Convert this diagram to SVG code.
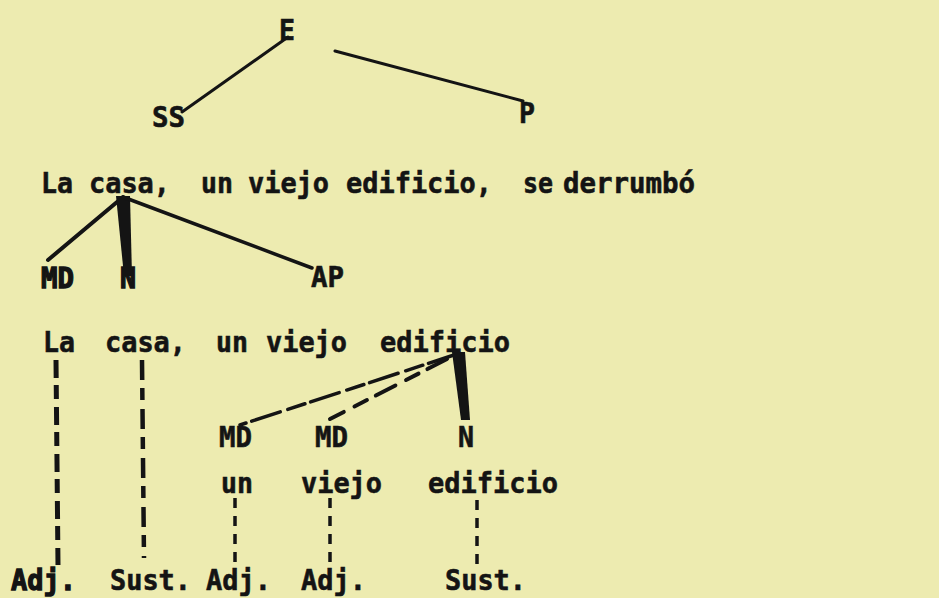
<svg xmlns="http://www.w3.org/2000/svg" width="939" height="598" viewBox="0 0 939 598">
<style>
  .t{font-family:"DejaVu Sans Mono","Liberation Mono",monospace;font-weight:bold;font-size:29px;fill:#141414;stroke:#141414;stroke-width:0.6px}
  .hv{stroke-width:1.3px}
  .ln{stroke:#141414;fill:none;stroke-linecap:round}
  .wd{fill:#141414}
  .ds{stroke:#141414;fill:none;stroke-linecap:butt}
</style>
<rect width="939" height="598" fill="#edebb0"/>
<g id="connectors">
  <line class="ln" x1="288" y1="37" x2="182" y2="112" stroke-width="3"/>
  <line class="ln" x1="335" y1="51" x2="523" y2="101" stroke-width="3"/>
  <line class="ln" x1="123" y1="197" x2="48" y2="260" stroke-width="4"/>
  <polygon class="wd" points="116,196 130,196 132,276 124,276"/>
  <line class="ln" x1="123" y1="197" x2="312" y2="268" stroke-width="3.5"/>
  <line class="ln" x1="457" y1="354" x2="240" y2="425" stroke-width="3.5" stroke-dasharray="30 6 18 8"/>
  <line class="ln" x1="447" y1="359" x2="330" y2="419" stroke-width="4" stroke-dasharray="22 10 14 12"/>
  <polygon class="wd" points="452,352 465,352 470,420 461,420"/>
  <line class="ds" x1="56" y1="360" x2="58" y2="565" stroke-width="5" stroke-dasharray="18 7 14 8"/>
  <line class="ds" x1="142" y1="360" x2="144" y2="558" stroke-width="4.5" stroke-dasharray="20 8 12 9"/>
  <line class="ds" x1="235" y1="498" x2="235" y2="568" stroke-width="3.5" stroke-dasharray="10 8"/>
  <line class="ds" x1="330" y1="498" x2="330" y2="566" stroke-width="3.5" stroke-dasharray="10 8"/>
  <line class="ds" x1="477" y1="500" x2="477" y2="567" stroke-width="3.5" stroke-dasharray="10 8"/>
</g>
<g id="node-E"><text class="t" x="279" y="40" textLength="16" lengthAdjust="spacingAndGlyphs">E</text></g>
<g id="node-SS"><text class="t" x="152" y="127" textLength="33" lengthAdjust="spacingAndGlyphs">SS</text></g>
<g id="node-P"><text class="t" x="519" y="123" textLength="16" lengthAdjust="spacingAndGlyphs">P</text></g>
<g id="node-sentence">
  <text class="t" x="41" y="193" textLength="32" lengthAdjust="spacingAndGlyphs">La</text>
  <text class="t" x="89" y="193" textLength="81" lengthAdjust="spacingAndGlyphs">casa,</text>
  <text class="t" x="201" y="193" textLength="32" lengthAdjust="spacingAndGlyphs">un</text>
  <text class="t" x="248" y="193" textLength="81" lengthAdjust="spacingAndGlyphs">viejo</text>
  <text class="t" x="346" y="193" textLength="146" lengthAdjust="spacingAndGlyphs">edificio,</text>
  <text class="t" x="523" y="193" textLength="30" lengthAdjust="spacingAndGlyphs">se</text>
  <text class="t" x="563" y="193" textLength="132" lengthAdjust="spacingAndGlyphs">derrumbó</text>
</g>
<g id="node-MD1"><text class="t hv" x="41" y="288" textLength="33" lengthAdjust="spacingAndGlyphs">MD</text></g>
<g id="node-N1"><text class="t hv" x="120" y="288" textLength="16" lengthAdjust="spacingAndGlyphs">N</text></g>
<g id="node-AP"><text class="t" x="311" y="287" textLength="33" lengthAdjust="spacingAndGlyphs">AP</text></g>
<g id="node-La"><text class="t" x="43" y="352" textLength="32" lengthAdjust="spacingAndGlyphs">La</text></g>
<g id="node-casa"><text class="t" x="105" y="352" textLength="81" lengthAdjust="spacingAndGlyphs">casa,</text></g>
<g id="node-unviejo">
  <text class="t" x="216" y="352" textLength="32" lengthAdjust="spacingAndGlyphs">un</text>
  <text class="t" x="266" y="352" textLength="81" lengthAdjust="spacingAndGlyphs">viejo</text>
</g>
<g id="node-edificio"><text class="t" x="380" y="352" textLength="130" lengthAdjust="spacingAndGlyphs">edificio</text></g>
<g id="node-MD2"><text class="t" x="219" y="447" textLength="33" lengthAdjust="spacingAndGlyphs">MD</text></g>
<g id="node-MD3"><text class="t" x="315" y="447" textLength="33" lengthAdjust="spacingAndGlyphs">MD</text></g>
<g id="node-N2"><text class="t" x="458" y="447" textLength="16" lengthAdjust="spacingAndGlyphs">N</text></g>
<g id="node-un"><text class="t" x="221" y="493" textLength="32" lengthAdjust="spacingAndGlyphs">un</text></g>
<g id="node-viejo"><text class="t" x="301" y="493" textLength="81" lengthAdjust="spacingAndGlyphs">viejo</text></g>
<g id="node-edificio2"><text class="t" x="428" y="493" textLength="130" lengthAdjust="spacingAndGlyphs">edificio</text></g>
<g id="node-Adj1"><text class="t hv" x="11" y="590" textLength="65" lengthAdjust="spacingAndGlyphs">Adj.</text></g>
<g id="node-Sust1"><text class="t" x="110" y="590" textLength="81" lengthAdjust="spacingAndGlyphs">Sust.</text></g>
<g id="node-Adj2"><text class="t" x="206" y="590" textLength="65" lengthAdjust="spacingAndGlyphs">Adj.</text></g>
<g id="node-Adj3"><text class="t" x="301" y="590" textLength="65" lengthAdjust="spacingAndGlyphs">Adj.</text></g>
<g id="node-Sust2"><text class="t" x="445" y="590" textLength="81" lengthAdjust="spacingAndGlyphs">Sust.</text></g>
</svg>
